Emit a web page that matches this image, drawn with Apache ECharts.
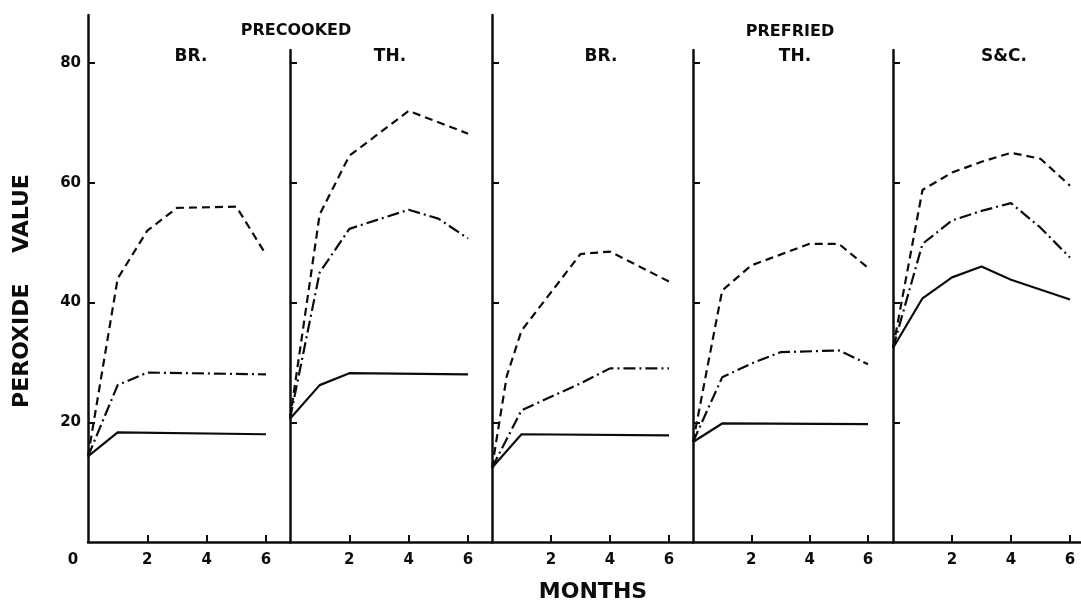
<!DOCTYPE html>
<html>
<head>
<meta charset="utf-8">
<title>Peroxide value during storage</title>
<script src="https://cdn.jsdelivr.net/npm/echarts@6/dist/echarts.min.js"></script>
<style>
  html, body { margin: 0; padding: 0; background: #ffffff; }
  #chart { width: 1081px; height: 604px; }
</style>
</head>
<body>
<div id="chart"></div>
<script>
// Panel headings
const groupTitles = ['PRECOOKED', 'PREFRIED'];
const panelTitles = ['BR.', 'TH.', 'BR.', 'TH.', 'S&C.'];

// Axis ticks
const monthTicks = [2, 4, 6];
const peroxideTicks = [20, 40, 60, 80];

// Peroxide value vs storage months: [month, value]
// Precooked BR.
const precookedBrSolid   = [[0, 14.3], [1, 18.3], [6, 18.0]];
const precookedBrDashDot = [[0, 14.3], [1, 26.2], [2, 28.3], [6, 28.0]];
const precookedBrDashed  = [[0, 14.3], [1, 44.0], [2, 52.0], [3, 55.8], [5, 56.0], [6, 48.0]];
// Precooked TH.
const precookedThSolid   = [[0, 20.6], [1, 26.2], [2, 28.2], [6, 28.0]];
const precookedThDashDot = [[0, 20.6], [1, 45.0], [2, 52.3], [4, 55.5], [5, 54.0], [6, 50.7]];
const precookedThDashed  = [[0, 20.6], [1, 54.7], [2, 64.5], [4, 72.0], [6, 68.2]];
// Prefried BR.
const prefriedBrSolid    = [[0, 12.4], [1, 18.0], [6, 17.8]];
const prefriedBrDashDot  = [[0, 12.4], [1, 22.0], [3, 26.5], [4, 29.0], [6, 29.0]];
const prefriedBrDashed   = [[0, 12.4], [0.5, 27.7], [1, 35.3], [3, 48.1], [4, 48.5], [6, 43.5]];
// Prefried TH.
const prefriedThSolid    = [[0, 16.7], [1, 19.8], [6, 19.7]];
const prefriedThDashDot  = [[0, 16.7], [1, 27.5], [2, 29.8], [3, 31.7], [5, 32.0], [6, 29.7]];
const prefriedThDashed   = [[0, 16.7], [1, 42.0], [2, 46.2], [4, 49.8], [5, 49.8], [6, 45.8]];
// Prefried S&C.
const prefriedScSolid    = [[0, 32.4], [1, 40.7], [2, 44.2], [3, 46.0], [4, 43.8], [6, 40.5]];
const prefriedScDashDot  = [[0, 32.4], [1, 49.8], [2, 53.7], [3, 55.3], [4, 56.6], [5, 52.5], [6, 47.5]];
const prefriedScDashed   = [[0, 32.4], [1, 58.8], [2, 61.7], [3, 63.5], [4, 65.0], [5, 64.0], [6, 59.5]];

const panelSeries = [
  [precookedBrSolid, precookedBrDashDot, precookedBrDashed],
  [precookedThSolid, precookedThDashDot, precookedThDashed],
  [prefriedBrSolid, prefriedBrDashDot, prefriedBrDashed],
  [prefriedThSolid, prefriedThDashDot, prefriedThDashed],
  [prefriedScSolid, prefriedScDashDot, prefriedScDashed]
];

// ---- layout (pixels) ----
const W = 1081, H = 604;
const baseY = 542;                 // y pixel of value 0
const pxPerUnit = (542 - 63) / 80; // vertical scale shared by all panels
const panelLeft  = [88, 290, 492, 693, 893];
const panelSix   = [266, 468, 669, 868, 1070]; // pixel of month 6
const panelRight = [290, 492, 693, 893, 1081];
const panelTop   = [15, 50, 15, 50, 50];

const INK = '#0c0c0c';
const FONT = '"DejaVu Sans", "Liberation Sans", sans-serif';
const lineStyles = [
  { type: 'solid' },
  { type: [12, 4, 2, 4] },
  { type: [8, 5] }
];

const grids = [], xAxes = [], yAxes = [], series = [];
for (let i = 0; i < 5; i++) {
  const pxPerMonth = (panelSix[i] - panelLeft[i]) / 6;
  grids.push({
    left: panelLeft[i],
    width: panelRight[i] - panelLeft[i],
    top: panelTop[i],
    bottom: H - baseY
  });
  xAxes.push({
    type: 'value', gridIndex: i, min: 0,
    max: (panelRight[i] - panelLeft[i]) / pxPerMonth,
    axisLine: { show: true, lineStyle: { color: INK, width: 2.5 } },
    axisTick: { show: true, inside: true, length: 7, customValues: monthTicks,
                lineStyle: { color: INK, width: 2 } },
    axisLabel: { show: true, customValues: monthTicks, margin: 11,
                 color: INK, fontFamily: FONT, fontWeight: 'bold', fontSize: 15 },
    splitLine: { show: false }
  });
  yAxes.push({
    type: 'value', gridIndex: i, min: 0,
    max: (baseY - panelTop[i]) / pxPerUnit,
    axisLine: { show: true, lineStyle: { color: INK, width: 2.5 } },
    axisTick: { show: true, inside: true, length: 7, customValues: peroxideTicks,
                lineStyle: { color: INK, width: 2 } },
    axisLabel: { show: i === 0, customValues: peroxideTicks, margin: 7,
                 color: INK, fontFamily: FONT, fontWeight: 'bold', fontSize: 15 },
    splitLine: { show: false }
  });
  panelSeries[i].forEach((data, k) => {
    series.push({
      type: 'line', xAxisIndex: i, yAxisIndex: i, data: data,
      symbol: 'none', smooth: false, silent: true,
      lineStyle: Object.assign({ color: INK, width: 2.2 }, lineStyles[k])
    });
  });
}

function label(text, x, y, size, extra) {
  return Object.assign({
    type: 'text', x: x, y: y, silent: true,
    style: { text: text, fill: INK, font: 'bold ' + size + 'px ' + FONT,
             align: 'center', verticalAlign: 'middle',
             textAlign: 'center', textVerticalAlign: 'middle' }
  }, extra || {});
}

const graphics = [
  label(groupTitles[0], 296, 31, 16),
  label(groupTitles[1], 790, 32, 16),
  label(panelTitles[0], 191, 57, 17),
  label(panelTitles[1], 390, 57, 17),
  label(panelTitles[2], 601, 57, 17),
  label(panelTitles[3], 795, 57, 17),
  label(panelTitles[4], 1004, 57, 17),
  label('0', 73, 560, 15),
  label('MONTHS', 593, 592, 22),
  label('PEROXIDE    VALUE', 22, 291, 22, { rotation: Math.PI / 2 })
];

const chart = echarts.init(document.getElementById('chart'), null, { renderer: 'canvas' });
chart.setOption({
  animation: false,
  backgroundColor: '#ffffff',
  grid: grids,
  xAxis: xAxes,
  yAxis: yAxes,
  series: series,
  graphic: graphics
});
</script>
</body>
</html>
